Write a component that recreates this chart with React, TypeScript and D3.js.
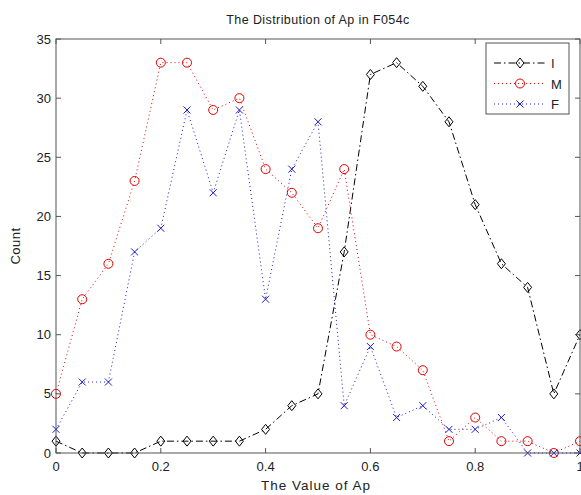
import React from "react";
import * as d3 from "d3";

const xs = [0, 0.05, 0.1, 0.15, 0.2, 0.25, 0.3, 0.35, 0.4, 0.45, 0.5, 0.55, 0.6, 0.65, 0.7, 0.75, 0.8, 0.85, 0.9, 0.95, 1];
const seriesI = [1, 0, 0, 0, 1, 1, 1, 1, 2, 4, 5, 17, 32, 33, 31, 28, 21, 16, 14, 5, 10];
const seriesM = [5, 13, 16, 23, 33, 33, 29, 30, 24, 22, 19, 24, 10, 9, 7, 1, 3, 1, 1, 0, 1];
const seriesF = [2, 6, 6, 17, 19, 29, 22, 29, 13, 24, 28, 4, 9, 3, 4, 2, 2, 3, 0, 0, 0];
const xTicks = [0, 0.2, 0.4, 0.6, 0.8, 1];
const yTicks = [0, 5, 10, 15, 20, 25, 30, 35];
const names = ["I", "M", "F"];

const W = 581, H = 495;
const L = 56, R = 580, T = 39, B = 453;
const font = "'Liberation Sans', Arial, sans-serif";

function Marker({ kind, x, y, color }: { kind: string; x: number; y: number; color: string }) {
  if (kind === "d") {
    return <path d={`M${x},${y - 5}L${x + 4},${y}L${x},${y + 5}L${x - 4},${y}Z`} fill="none" stroke={color} strokeWidth={1} />;
  }
  if (kind === "o") {
    return <circle cx={x} cy={y} r={4.5} fill="none" stroke={color} strokeWidth={1} />;
  }
  return <path d={`M${x - 3.5},${y - 3.5}L${x + 3.5},${y + 3.5}M${x - 3.5},${y + 3.5}L${x + 3.5},${y - 3.5}`} stroke={color} strokeWidth={1} />;
}

export default function App() {
  const x = d3.scaleLinear().domain([0, 1]).range([L, R]);
  const y = d3.scaleLinear().domain([0, 35]).range([B, T]);
  const line = d3.line<number>().x((_, i) => x(xs[i])).y((d) => y(d));
  const series = [
    { name: names[0], data: seriesI, color: "#000000", kind: "d", dash: "7,3,1.5,3" },
    { name: names[1], data: seriesM, color: "#e00000", kind: "o", dash: "1,3" },
    { name: names[2], data: seriesF, color: "#1a1acc", kind: "x", dash: "1,3" },
  ];
  const axisColor = "#555";
  const textColor = "#222";
  return (
    <svg width={W} height={H} style={{ position: "absolute", left: 0, top: 0, background: "#fff" }} fontFamily={font}>
      <rect x={0} y={0} width={W} height={H} fill="#fff" />
      <text x={318} y={24} textAnchor="middle" fontSize={12.5} letterSpacing={0.4} fill={textColor}>The Distribution of Ap in F054c</text>
      {series.map((s) => (
        <g key={s.name}>
          <path d={line(s.data) || ""} fill="none" stroke={s.color} strokeWidth={1} strokeDasharray={s.dash} />
          {s.data.map((v, i) => (
            <Marker key={i} kind={s.kind} x={x(xs[i])} y={y(v)} color={s.color} />
          ))}
        </g>
      ))}
      <rect x={L} y={T} width={R - L} height={B - T} fill="none" stroke={axisColor} strokeWidth={1} />
      {xTicks.map((t) => (
        <g key={t}>
          <line x1={x(t)} x2={x(t)} y1={B} y2={B - 5} stroke={axisColor} />
          <line x1={x(t)} x2={x(t)} y1={T} y2={T + 5} stroke={axisColor} />
          <text x={x(t)} y={B + 18} textAnchor="middle" fontSize={13} fill={textColor}>{String(t)}</text>
        </g>
      ))}
      {yTicks.map((t) => (
        <g key={t}>
          <line x1={L} x2={L + 5} y1={y(t)} y2={y(t)} stroke={axisColor} />
          <line x1={R} x2={R - 5} y1={y(t)} y2={y(t)} stroke={axisColor} />
          <text x={L - 5} y={y(t) + 4.5} textAnchor="end" fontSize={13} fill={textColor}>{String(t)}</text>
        </g>
      ))}
      <text x={316} y={490} textAnchor="middle" fontSize={13.5} letterSpacing={1} fill={textColor}>The Value of Ap</text>
      <text transform={`translate(20,${(T + B) / 2}) rotate(-90)`} textAnchor="middle" fontSize={13} letterSpacing={0.5} fill={textColor}>Count</text>
      <g>
        <rect x={486} y={43} width={83} height={71} fill="#fff" stroke={axisColor} strokeWidth={1} />
        {series.map((s, i) => {
          const ly = 63 + i * 20.5;
          return (
            <g key={s.name}>
              <line x1={494} x2={546} y1={ly} y2={ly} stroke={s.color} strokeDasharray={s.dash} />
              <Marker kind={s.kind} x={520} y={ly} color={s.color} />
              <text x={551} y={ly + 5} fontSize={13} fill={textColor}>{s.name}</text>
            </g>
          );
        })}
      </g>
    </svg>
  );
}
